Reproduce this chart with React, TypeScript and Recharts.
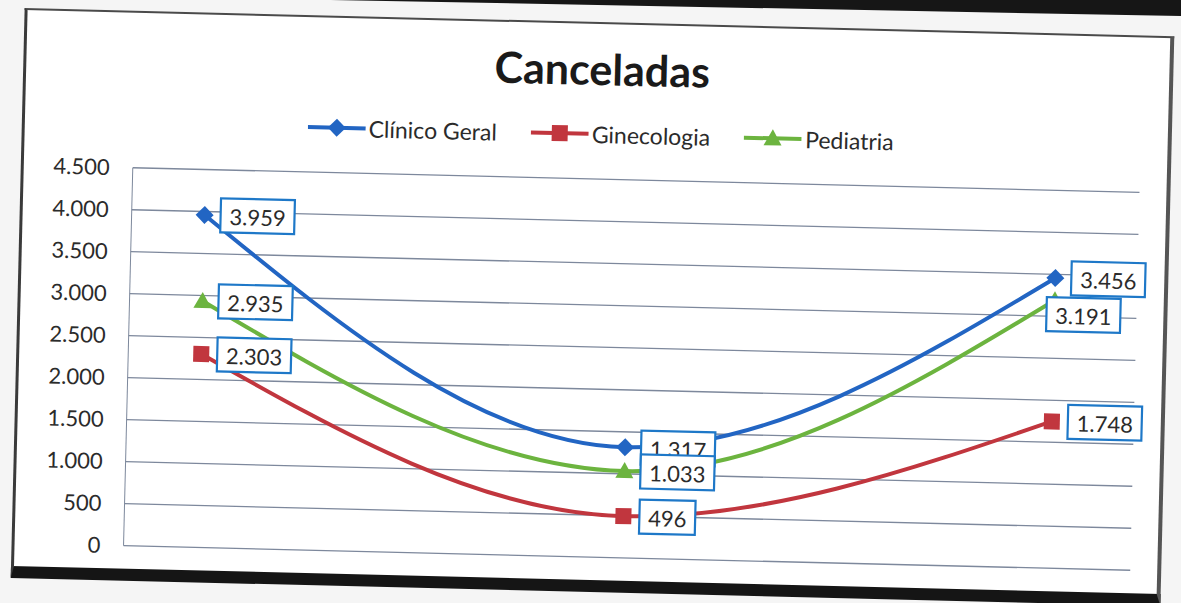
import { LineChart, Line, XAxis, YAxis, CartesianGrid, LabelList, Legend } from 'recharts'

const periods = ['1', '2', '3']
const clinicoGeral = [3959, 1317, 3456]
const ginecologia = [2303, 496, 1748]
const pediatria = [2935, 1033, 3191]
const yTicks = [0, 500, 1000, 1500, 2000, 2500, 3000, 3500, 4000, 4500]

const FONT = 'Lato, "Open Sans", sans-serif'

const series = [
  { key: 'clinico', name: 'Clínico Geral', color: '#2265C3', shape: 'diamond', values: clinicoGeral },
  { key: 'gineco', name: 'Ginecologia', color: '#C1363E', shape: 'square', values: ginecologia },
  { key: 'pediatria', name: 'Pediatria', color: '#6CB43F', shape: 'triangle', values: pediatria },
]

const data = periods.map((p, i) => ({
  period: p,
  clinico: clinicoGeral[i],
  gineco: ginecologia[i],
  pediatria: pediatria[i],
}))

// 4500 -> "4.500"
const fmt = (v: number) => String(v).replace(/\B(?=(\d{3})+(?!\d))/g, '.')

function Marker({ shape, cx, cy, color }: { shape: string; cx: number; cy: number; color: string }) {
  if (shape === 'diamond') {
    return <polygon points={`${cx},${cy - 9} ${cx + 9},${cy} ${cx},${cy + 9} ${cx - 9},${cy}`} fill={color} />
  }
  if (shape === 'square') {
    return <rect x={cx - 8} y={cy - 8} width={16} height={16} fill={color} />
  }
  return <polygon points={`${cx},${cy - 9} ${cx + 9},${cy + 7} ${cx - 9},${cy + 7}`} fill={color} />
}

// labels sit to the right of the point; the last pediatria label was pushed
// below the clínico one in the original, so it gets moved down/left
const makeLabel = (seriesKey: string) => (props: any) => {
  const { x, y, value, index } = props
  if (x == null || y == null) return null
  const text = fmt(value)
  const dots = (text.match(/\./g) || []).length
  const w = (text.length - dots) * 12.6 + dots * 5.5 + 18
  const h = 34
  let left = x + 16
  let top = y - 17
  if (seriesKey === 'pediatria' && index === 2) {
    left = x - 8
    top = y - 3
  }
  return (
    <g>
      <rect x={left} y={top} width={w} height={h} fill="#fff" stroke="#1E78C8" strokeWidth={2.2} />
      <text
        x={left + w / 2}
        y={top + h / 2 + 1}
        textAnchor="middle"
        dominantBaseline="central"
        fontSize={22}
        fontFamily={FONT}
        fill="#2b2b2b"
      >
        {text}
      </text>
    </g>
  )
}

function LegendContent() {
  return (
    <div style={{ display: 'flex', justifyContent: 'center', gap: 34, fontFamily: FONT, fontSize: 23, color: '#2b2b2b' }}>
      {series.map((s) => (
        <div key={s.key} style={{ display: 'flex', alignItems: 'center' }}>
          <svg width={58} height={20}>
            <line x1={0} y1={10} x2={58} y2={10} stroke={s.color} strokeWidth={4} />
            <Marker shape={s.shape} cx={29} cy={10} color={s.color} />
          </svg>
          <span style={{ marginLeft: 3 }}>{s.name}</span>
        </div>
      ))}
    </div>
  )
}

export default function App() {
  return (
    <div style={{ position: 'absolute', left: 0, top: 0, width: 1181, height: 603, overflow: 'hidden', background: '#f5f5f5' }}>
      {/* edge of the chart above on the page */}
      <div style={{ position: 'absolute', left: 0, top: 0, width: 1181, height: 16, background: '#161616', clipPath: 'polygon(28% 0, 100% 0, 100% 100%, 28% 0)' }} />

      <div style={{ position: 'absolute', left: 0, top: 0, width: 1181, height: 603, transform: 'rotate(1.4deg)', transformOrigin: '632px 369px' }}>
        {/* chart frame */}
        <div
          style={{
            position: 'absolute',
            left: 16,
            top: 23,
            width: 1150,
            height: 570,
            boxSizing: 'border-box',
            background: '#fff',
            borderTop: '2px solid #4a4a4a',
            borderLeft: '3px solid #3a3a3a',
            borderRight: '4px solid #555',
            borderBottom: '12px solid #151515',
          }}
        />
        <div style={{ position: 'absolute', left: 0, top: 44, width: 1190, textAlign: 'center', fontFamily: FONT, fontWeight: 700, fontSize: 43, color: '#1a1a1a' }}>
          Canceladas
        </div>
        <LineChart width={1181} height={603} data={data} margin={{ top: 180, right: 46, bottom: 45, left: 0 }} style={{ position: 'absolute', left: 0, top: 0 }}>
          <CartesianGrid vertical={false} stroke="#7d889c" strokeWidth={1.3} />
          <XAxis dataKey="period" tick={false} tickLine={false} height={0} padding={{ left: 73, right: 82 }} stroke="#7d889c" />
          <YAxis
            domain={[0, 4500]}
            ticks={yTicks}
            interval={0}
            width={128}
            tickLine={false}
            tickMargin={17}
            tickFormatter={fmt}
            stroke="#7d889c"
            tick={{ fill: '#2b2b2b', fontSize: 22, fontFamily: FONT }}
          />
          <Legend
            verticalAlign="middle"
            align="center"
            content={LegendContent}
            wrapperStyle={{ top: 121, left: 0, width: 1190 }}
          />
          {series.map((s) => (
            <Line
              key={s.key}
              dataKey={s.key}
              name={s.name}
              type="monotone"
              stroke={s.color}
              strokeWidth={4}
              isAnimationActive={false}
              dot={(p: any) => <Marker key={`${s.key}-${p.index}`} shape={s.shape} cx={p.cx} cy={p.cy} color={s.color} />}
              activeDot={false}
            >
              <LabelList dataKey={s.key} content={makeLabel(s.key)} />
            </Line>
          ))}
        </LineChart>
      </div>
    </div>
  )
}
